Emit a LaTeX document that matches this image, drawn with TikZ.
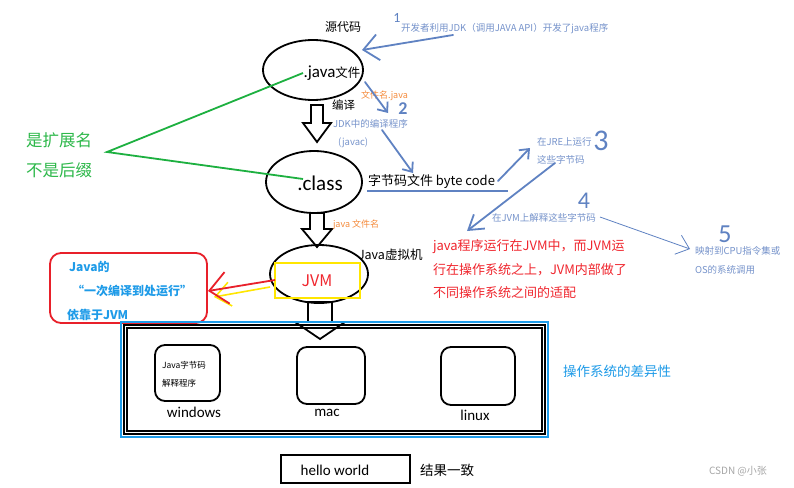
\documentclass[tikz,border=0pt]{standalone}
\usepackage{fontspec}
\setmainfont{Noto Sans CJK SC}
\newfontfamily\carlito{Carlito}
\usetikzlibrary{arrows.meta,shapes.geometric}
\definecolor{ablue}{HTML}{5F82C2}
\definecolor{tblue}{HTML}{7693CB}
\definecolor{lblue}{HTML}{1E9BE8}
\definecolor{gline}{HTML}{1DB040}
\definecolor{gtxt}{HTML}{2DB84A}
\definecolor{rtxt}{HTML}{F0262E}
\definecolor{rbox}{HTML}{E8202A}
\definecolor{otxt}{HTML}{F58A3A}
\definecolor{yel}{HTML}{FFE600}
\newcommand\fs[1]{\fontsize{#1}{#1}\selectfont}
\newcommand\blkarrow[6]{% cx, shaft half, head half, top, headtop, tip
  \draw[blk] ({#1-#2},#4) -- ({#1+#2},#4) -- ({#1+#2},#5) -- ({#1+#3},#5)
    -- (#1,#6) -- ({#1-#3},#5) -- ({#1-#2},#5) -- cycle;}
\begin{document}
\begin{tikzpicture}[x=1pt,y=-1pt,
  every node/.style={inner sep=0pt,outer sep=0pt},
  ell/.style={draw,ellipse,line width=1.8pt},
  rbx/.style={draw,rounded corners=10pt,line width=1.8pt},
  blk/.style={draw,fill=white,line width=1.8pt,line join=miter},
  lbl/.style={anchor=west},
  note/.style={anchor=west,text=tblue,font=\fs{9.5}},
  onote/.style={anchor=west,text=otxt,font=\fs{9}},
  digit/.style={text=ablue,font=\carlito},
  hand/.style={draw=ablue,line width=1.8pt,line cap=round,-{Straight Barb[length=8pt,width=13pt]}},
  thinhand/.style={draw=ablue,line width=0.8pt,-{Straight Barb[length=12pt,width=20pt]}},
  gln/.style={draw=gline,line width=1.8pt},
  rtext/.style={anchor=west,text=rtxt,font=\fs{13}},
  btext/.style={anchor=west,text=lblue,font=\fs{12}\bfseries},
]
\fill[white] (0,0) rectangle (794,487);
\useasboundingbox (0,0) rectangle (794,487);

% --- block arrows (drawn first, boxes on top) ---
\blkarrow{317}{6}{14}{105}{123}{142}
\blkarrow{317}{7}{15}{213}{229}{247}
\blkarrow{320}{12}{25}{302}{322}{339}

% --- ellipses ---
\node[ell,minimum width=100,minimum height=60] (java) at (313,70) {};
\node[ell,minimum width=96,minimum height=62] (class) at (314,182) {};
\node[ell,minimum width=98,minimum height=58] (jvm) at (319,274) {};
\node (javatxt) at (332,73) {{\carlito\fs{17}.java}{\fs{12.5}文件}};
\node (classtxt) at (320,183) {\carlito\fs{21}.class};
\node[draw=yel,line width=2.2pt,minimum width=85,minimum height=35] (jvmbox) at (317.5,280.5) {};
\node[text=rtxt,font=\fs{16}] (jvmtxt) at (317,281) {JVM};

% --- labels near the chain ---
\node[lbl,font=\fs{12}] (src) at (325,27) {源代码};
\node[lbl,font=\fs{11.5}] (compile) at (332,105) {编译};
\node[lbl,font=\fs{12.5}] (vm) at (358,255) {Java虚拟机};
\node[lbl,font=\fs{13}] (bc) at (368,182) {字节码文件 byte code};
\coordinate (ulA) at (367,191);
\coordinate (ulB) at (508,191);
\draw[ablue,line width=1.6pt] (ulA) -- (ulB);

\node[onote] (fn1) at (361,96) {文件名.java};
\node[onote] (fn2) at (333,225) {java 文件名};

\node[note] (dev) at (401,29) {开发者利用JDK（调用JAVA API）开发了java程序};
\node[note] (jdk) at (333,124) {JDK中的编译程序};
\node[note] (javac) at (338,143) {(javac)};
\node[note] (jre1) at (537,142) {在JRE上运行};
\node[note] (jre2) at (537,160) {这些字节码};
\node[note] (jvmi) at (492,218) {在JVM上解释这些字节码};
\node[note] (cpu1) at (695,251) {映射到CPU指令集或};
\node[note] (cpu2) at (695,270) {OS的系统调用};

\node[digit,font=\carlito\fs{14}] (d1) at (397,18) {1};
\node[digit,font=\carlito\fs{18}\bfseries] (d2) at (403,109) {2};
\node[digit,font=\carlito\fs{30}] (d3) at (601,141) {3};
\node[digit,font=\carlito\fs{24}] (d4) at (584,201) {4};
\node[digit,font=\carlito\fs{26}] (d5) at (725,234) {5};

% --- hand-drawn blue arrows ---
\coordinate (a1s) at (453,35);  \coordinate (a1e) at (362,50);
\draw[hand,-{Straight Barb[length=15pt,width=26pt]}] (a1s) -- (a1e);
\coordinate (a2s) at (365,82);  \coordinate (a2e) at (388,113);
\draw[hand] (a2s) -- (a2e);
\coordinate (a3s) at (382,130); \coordinate (a3e) at (413,173);
\draw[hand] (a3s) -- (a3e);
\coordinate (a4s) at (498,181); \coordinate (a4e) at (530,148);
\draw[hand] (a4s) -- (a4e);
\coordinate (a5s) at (555,163); \coordinate (a5e) at (467,231);
\draw[hand,-{Straight Barb[length=14pt,width=18pt]}] (a5s) -- (a5e);
\coordinate (a6s) at (600,217); \coordinate (a6e) at (690,249);
\draw[thinhand] (a6s) -- (a6e);

% --- red explanatory text ---
\node[rtext] (r1) at (433,247) {java程序运行在JVM中，而JVM运};
\node[rtext] (r2) at (433,270) {行在操作系统之上，JVM内部做了};
\node[rtext] (r3) at (433,293) {不同操作系统之间的适配};

% --- green extension note ---
\node[lbl,text=gtxt,font=\fs{16.5}] (ext1) at (26,140) {是扩展名};
\node[lbl,text=gtxt,font=\fs{16.5}] (ext2) at (26,170) {不是后缀};
\coordinate (gapex) at (107,152);
\coordinate (gjava) at (303,73);
\coordinate (gclass) at (303,179);
\draw[gln] (gjava) -- (gapex) -- (gclass);

% --- red rounded note ---
\node[draw=rbox,line width=1.8pt,rounded corners=11pt,minimum width=157,minimum height=70] (jnote) at (128.5,288) {};
\node[btext] (b1) at (69,267) {Java的};
\node[btext] (b2) at (72,291) {“一次编译到处运行”};
\node[btext] (b3) at (67,315) {依靠于JVM};
\coordinate (ys) at (270,287);
\coordinate (ye) at (214,297);
\draw[yel,line width=1.6pt,-{Straight Barb[length=15pt,width=24pt]}] (ys) -- (ye);
\coordinate (rs) at (275,280);
\coordinate (re) at (208,291);
\draw[rbox,line width=1.8pt,-{Straight Barb[length=18pt,width=32pt]}] (rs) -- (re);

% --- OS container ---
\node[draw=lblue,line width=1.6pt,minimum width=427,minimum height=115] (osouter) at (334.5,379.5) {};
\node[draw,line width=1.8pt,minimum width=421,minimum height=109] (osbox) at (334.5,379.5) {};
\node[draw,line width=1.4pt,minimum width=415,minimum height=103] (osinner) at (334.5,379.5) {};
\node[lbl,text=lblue,font=\fs{13.5}] (osdiff) at (563,371) {操作系统的差异性};

\node[rbx,minimum width=65,minimum height=56] (win) at (187.5,373) {};
\node[rbx,minimum width=68,minimum height=57] (mac) at (331,375.5) {};
\node[rbx,minimum width=74,minimum height=58] (lin) at (478,376) {};
\node[lbl,font=\fs{8.5}] (w1) at (162,365) {Java字节码};
\node[lbl,font=\fs{8.5}] (w2) at (162,383) {解释程序};
\node[font=\carlito\fs{15}] (winl) at (194,412) {windows};
\node[font=\carlito\fs{15}] (macl) at (327,413) {mac};
\node[font=\carlito\fs{15}] (linl) at (475,415) {linux};

% --- result ---
\node[draw,line width=1.8pt,minimum width=129,minimum height=28] (hw) at (345.5,469) {};
\node[font=\carlito\fs{15}] (hwt) at (335,470) {hello world};
\node[lbl,font=\fs{13.5}] (same) at (420,470) {结果一致};

\node[text=black!35,font=\fs{10}] (wm) at (738,471) {CSDN @小张};
\end{tikzpicture}
\end{document}
